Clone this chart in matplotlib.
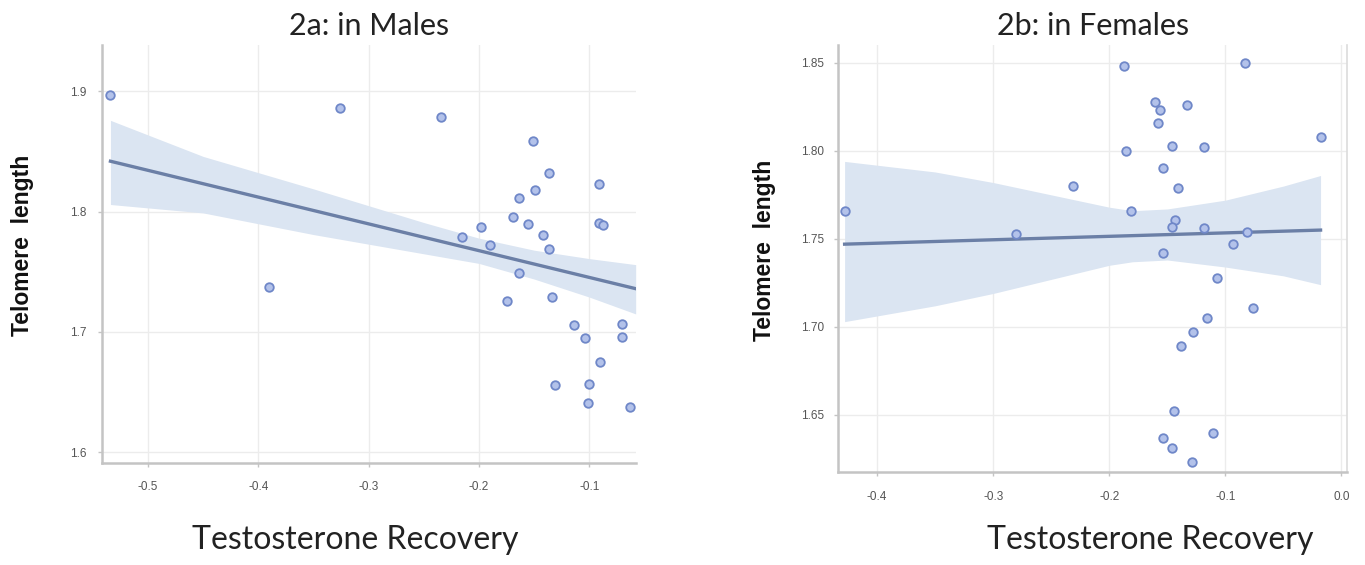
# Telomere length vs testosterone recovery, males and females
import matplotlib
matplotlib.use("Agg")
import matplotlib.pyplot as plt

# data
male_recovery = [-0.534, -0.326, -0.234, -0.390, -0.151, -0.137, -0.149, -0.164,
                 -0.091, -0.169, -0.156, -0.198, -0.091, -0.088, -0.215, -0.190,
                 -0.142, -0.137, -0.164, -0.175, -0.134, -0.114, -0.104, -0.070,
                 -0.070, -0.090, -0.131, -0.100, -0.101, -0.063]
male_telomere = [1.897, 1.886, 1.879, 1.737, 1.859, 1.832, 1.818, 1.811,
                 1.823, 1.796, 1.790, 1.787, 1.791, 1.789, 1.779, 1.772,
                 1.781, 1.769, 1.749, 1.726, 1.729, 1.706, 1.695, 1.707,
                 1.696, 1.675, 1.656, 1.657, 1.641, 1.638]

female_recovery = [-0.428, -0.280, -0.231, -0.1875, -0.186, -0.181, -0.161, -0.156,
                   -0.158, -0.133, -0.146, -0.118, -0.154, -0.141, -0.143, -0.146,
                   -0.118, -0.081, -0.154, -0.093, -0.083, -0.018, -0.107, -0.076,
                   -0.116, -0.128, -0.138, -0.144, -0.111, -0.154, -0.146, -0.129]
female_telomere = [1.766, 1.753, 1.780, 1.848, 1.800, 1.766, 1.828, 1.823,
                   1.816, 1.826, 1.803, 1.802, 1.790, 1.779, 1.761, 1.757,
                   1.756, 1.754, 1.742, 1.747, 1.850, 1.808, 1.728, 1.711,
                   1.705, 1.697, 1.689, 1.652, 1.640, 1.637, 1.631, 1.623]

# fitted lines and confidence bands as drawn in the figure
male_fit_x = [-0.534, -0.058]
male_fit_y = [1.842, 1.736]
male_band_x = [-0.534, -0.45, -0.35, -0.25, -0.20, -0.15, -0.10, -0.058]
male_band_lo = [1.806, 1.799, 1.781, 1.765, 1.757, 1.744, 1.729, 1.715]
male_band_hi = [1.876, 1.846, 1.819, 1.791, 1.778, 1.768, 1.761, 1.756]

female_fit_x = [-0.428, -0.018]
female_fit_y = [1.747, 1.755]
female_band_x = [-0.428, -0.35, -0.30, -0.25, -0.20, -0.18, -0.15, -0.10, -0.05, -0.018]
female_band_lo = [1.703, 1.712, 1.719, 1.727, 1.735, 1.737, 1.738, 1.734, 1.729, 1.724]
female_band_hi = [1.794, 1.788, 1.782, 1.775, 1.768, 1.766, 1.767, 1.772, 1.780, 1.786]

male_xticks = [-0.5, -0.4, -0.3, -0.2, -0.1]
male_yticks = [1.6, 1.7, 1.8, 1.9]
female_xticks = [-0.4, -0.3, -0.2, -0.1, 0.0]
female_yticks = [1.65, 1.70, 1.75, 1.80, 1.85]

# colours
point_edge = "#6f87c8"
point_face = "#b3c2ea"
line_color = "#6b7fa6"
band_color = "#dbe5f2"
grid_color = "#ececec"
spine_color = "#c4c4c4"
tick_color = "#555555"

narrow = ["Liberation Sans Narrow", "Liberation Sans", "DejaVu Sans"]
humanist = ["Lato", "Open Sans", "DejaVu Sans"]


def draw_panel(ax, x, y, fit_x, fit_y, band_x, band_lo, band_hi,
               xlim, ylim, xticks, yticks, yfmt, title, right_spine):
    ax.fill_between(band_x, band_lo, band_hi, color=band_color, lw=0, zorder=1)
    ax.plot(fit_x, fit_y, color=line_color, lw=2.4, zorder=2)
    ax.scatter(x, y, s=38, facecolor=point_face, edgecolor=point_edge,
               linewidth=1.3, zorder=3)

    ax.set_xlim(xlim)
    ax.set_ylim(ylim)
    ax.set_xticks(xticks)
    ax.set_yticks(yticks)
    ax.set_xticklabels(["%.1f" % t for t in xticks])
    ax.set_yticklabels([yfmt % t for t in yticks])
    ax.grid(True, color=grid_color, lw=1.0, zorder=0)
    ax.set_axisbelow(True)

    for side in ["top", "right"]:
        ax.spines[side].set_visible(False)
    for side in ["left", "bottom"]:
        ax.spines[side].set_color(spine_color)
        ax.spines[side].set_linewidth(1.8)
    if right_spine:
        ax.spines["right"].set_visible(True)
        ax.spines["right"].set_color("#dcdcdc")
        ax.spines["right"].set_linewidth(1.2)

    ax.tick_params(length=3, width=1, color=spine_color, labelcolor=tick_color,
                   labelsize=8.5)
    for lab in ax.get_xticklabels() + ax.get_yticklabels():
        lab.set_family(narrow)

    ax.set_title(title, fontsize=22, family=humanist, color="#222222", pad=7)
    ax.set_ylabel("Telomere  length", fontsize=16.5, fontweight="bold",
                  family=narrow, color="#111111")


fig = plt.figure(figsize=(13.65, 5.65), dpi=100)

# left panel: males
ax1 = fig.add_axes([0.0747, 0.1805, 0.391, 0.7395])
draw_panel(ax1, male_recovery, male_telomere, male_fit_x, male_fit_y,
           male_band_x, male_band_lo, male_band_hi,
           (-0.5417, -0.058), (1.591, 1.9385),
           male_xticks, male_yticks, "%.1f", "2a: in Males", False)
ax1.tick_params(axis="x", pad=10)
ax1.tick_params(axis="y", pad=8)
ax1.yaxis.set_label_coords(-0.128, 0.52)

# right panel: females
ax2 = fig.add_axes([0.614, 0.1646, 0.373, 0.7554])
draw_panel(ax2, female_recovery, female_telomere, female_fit_x, female_fit_y,
           female_band_x, female_band_lo, female_band_hi,
           (-0.4336, 0.005), (1.6176, 1.860),
           female_xticks, female_yticks, "%.2f", "2b: in Females", True)
ax2.tick_params(axis="x", pad=11)
ax2.tick_params(axis="y", pad=7)
ax2.yaxis.set_label_coords(-0.122, 0.52)

# x axis titles sit well below the tick labels
fig.text(0.260, 0.044, "Testosterone Recovery", fontsize=23, family=humanist,
         color="#222222", ha="center", va="center")
fig.text(0.843, 0.044, "Testosterone Recovery", fontsize=23, family=humanist,
         color="#222222", ha="center", va="center")

fig.savefig("out.png", dpi=100)
